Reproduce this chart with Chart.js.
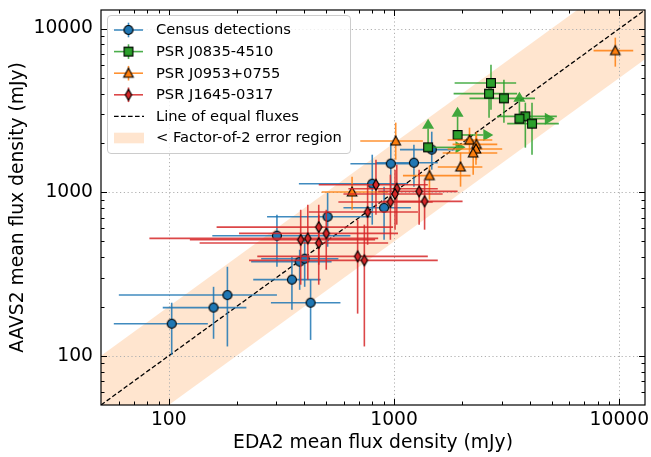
<!DOCTYPE html>
<html><head><meta charset="utf-8">
<script src="https://cdn.jsdelivr.net/npm/chart.js@4.4.1/dist/chart.umd.min.js"></script>
<style>html,body{margin:0;padding:0;background:#fff}</style>
</head><body>
<canvas id="c" width="651" height="457"></canvas>
<script>
// ---------------- DATA ----------------
const axis_min = 50, axis_max = 13000;
const x_major_ticks = [100, 1000, 10000];
const y_major_ticks = [100, 1000, 10000];
const x_tick_labels = ['100', '1000', '10000'];
const y_tick_labels = ['100', '1000', '10000'];
const minor_ticks = [60,70,80,90,200,300,400,500,600,700,800,900,2000,3000,4000,5000,6000,7000,8000,9000];

const census_x   = [103, 158, 182, 352, 426, 381, 401, 302, 507, 800, 903, 967, 1225, 1470];
const census_y   = [157, 197, 235, 292, 211, 376, 392, 542, 708, 1127, 804, 1494, 1515, 1820];
const census_xlo = [57, 94, 60, 237, 284, 232, 257, 156, 273, 378, 596, 640, 833, 1062];
const census_xhi = [149, 221, 302, 472, 578, 528, 566, 640, 792, 1153, 1188, 1276, 1563, 1857];
const census_ylo = [101, 127, 114, 191, 125, 253, 264, 350, 464, 633, 512, 900, 1081, 1373];
const census_yhi = [211, 264, 350, 403, 292, 445, 512, 728, 993, 1695, 1081, 2009, 1952, 2344];

const vela_x   = [2693, 2640, 3074, 3826, 4096, 3600, 1914, 1416];
const vela_y   = [4654, 4004, 3747, 2908, 2624, 2816, 2238, 1880];
const vela_xlo = [1857, 1838, 2162, 2872, 3178, null, null, null];
const vela_xhi = [3483, 3518, 4223, 5279, 5387, 5172, 2757, 2076];
const vela_ylo = [3196, 2856, 2662, 1872, 1696, null, null, null];
const vela_yhi = [6025, 4545, 4877, 3527, 3527, 4119, 3334, 2816];
const vela_lowerlimit = [false, false, false, false, false, true, true, true];

const b0950_x   = [651, 1017, 1436, 1973, 2162, 2321, 2310, 2245, 9597];
const b0950_y   = [1003, 2056, 1262, 1426, 2086, 1961, 1838, 1737, 7335];
const b0950_xlo = [477, 708, 1095, 1563, 1729, 1819, 1729, 1643, 7684];
const b0950_xhi = [941, 1342, 2184, 2466, 2729, 2872, 3020, 2872, 11527];
const b0950_ylo = [781, 1581, 900, 1081, 1696, 1581, 1473, 1280, 5856];
const b0950_yhi = [1244, 2662, 1452, 1745, 2481, 2344, 2216, 2095, 8810];

const j1645_x   = [831, 1028, 1010, 963, 763, 1292, 1366, 463, 500, 414, 385, 463, 689, 738];
const j1645_y   = [1111, 1050, 975, 871, 757, 1011, 879, 612, 560, 522, 512, 489, 405, 383];
const j1645_xlo = [463, 627, 596, 566, 418, 850, 894, 163, 205, 82, 124, 137, 247, 227];
const j1645_xhi = [1412, 1563, 1643, 1485, 1276, 1914, 2014, 990, 1041, 850, 824, 941, 1412, 1563];
const j1645_ylo = [728, 633, 590, 512, 477, 633, 590, 360, 336, 292, 272, 272, 181, 114];
const j1645_yhi = [1581, 1473, 1373, 1280, 1111, 1373, 1193, 838, 781, 838, 781, 728, 679, 633];

const equal_x = [50, 13000];
const equal_y = [50, 13000];
const band_x = [50, 13000];
const band_lower = [25, 6500];
const band_upper = [100, 26000];

const legend_labels = ['Census detections', 'PSR J0835-4510', 'PSR J0953+0755', 'PSR J1645-0317',
                       'Line of equal fluxes', '< Factor-of-2 error region'];

// ---------------- STYLE ----------------
const FONT = 'DejaVu Sans';
const AXIS_FONT = 18.7, LEGEND_FONT = 14.7;
const C_BLUE = '#1f77b4', C_GREEN = '#2ca02c', C_ORANGE = '#ff7f0e', C_RED = '#d62728';

function makeMarker(kind, fill) {
  const S = 16, c = document.createElement('canvas');
  c.width = S; c.height = S;
  const g = c.getContext('2d');
  g.translate(S / 2, S / 2);
  g.beginPath();
  if (kind === 'circle') g.arc(0, 0, 4.5, 0, Math.PI * 2);
  else if (kind === 'square') g.rect(-4.4, -4.4, 8.8, 8.8);
  else if (kind === 'triangle') { g.moveTo(0, -5); g.lineTo(4.8, 4); g.lineTo(-4.8, 4); g.closePath(); }
  else if (kind === 'diamond') { g.moveTo(0, -5.4); g.lineTo(3.2, 0); g.lineTo(0, 5.4); g.lineTo(-3.2, 0); g.closePath(); }
  g.fillStyle = fill; g.fill();
  g.lineWidth = 1.1; g.strokeStyle = '#000'; g.stroke();
  return c;
}
const M_CIRCLE = makeMarker('circle', C_BLUE);
const M_SQUARE = makeMarker('square', C_GREEN);
const M_TRI = makeMarker('triangle', C_ORANGE);
const M_DIA = makeMarker('diamond', C_RED);

function pts(xs, ys) { return xs.map((x, i) => ({ x: x, y: ys[i] })); }

const BAND_UPPER_INDEX = 1;

const datasets = [
  { type: 'line', data: pts(band_x, band_lower), borderWidth: 0, pointRadius: 0, fill: false, order: 11, clip: 0 },
  { type: 'line', data: pts(band_x, band_upper), borderWidth: 0, pointRadius: 0,
    fill: { target: 0 }, backgroundColor: 'rgba(255,127,14,0.2)', order: 10, clip: 0 },
  { type: 'line', data: pts(equal_x, equal_y), borderColor: '#000', borderWidth: 1.3, borderDash: [4.6, 2.4],
    pointRadius: 0, fill: false, order: 9, clip: 0 },
  { type: 'scatter', data: pts(census_x, census_y), pointStyle: M_CIRCLE, pointRadius: 5, order: 4,
    err: { color: C_BLUE, xlo: census_xlo, xhi: census_xhi, ylo: census_ylo, yhi: census_yhi } },
  { type: 'scatter', data: pts(vela_x, vela_y), pointStyle: M_SQUARE, pointRadius: 5, order: 3,
    err: { color: C_GREEN, xlo: vela_xlo, xhi: vela_xhi, ylo: vela_ylo, yhi: vela_yhi, limit: vela_lowerlimit } },
  { type: 'scatter', data: pts(b0950_x, b0950_y), pointStyle: M_TRI, pointRadius: 5, order: 2,
    err: { color: C_ORANGE, xlo: b0950_xlo, xhi: b0950_xhi, ylo: b0950_ylo, yhi: b0950_yhi } },
  { type: 'scatter', data: pts(j1645_x, j1645_y), pointStyle: M_DIA, pointRadius: 5, order: 1,
    err: { color: C_RED, xlo: j1645_xlo, xhi: j1645_xhi, ylo: j1645_ylo, yhi: j1645_yhi } }
];

function withAlpha(hex, a) {
  const n = parseInt(hex.slice(1), 16);
  return 'rgba(' + (n >> 16 & 255) + ',' + (n >> 8 & 255) + ',' + (n & 255) + ',' + a + ')';
}

function drawGrid(chart) {
  const { ctx, chartArea: a, scales } = chart;
  ctx.save();
  ctx.strokeStyle = '#b0b0b0'; ctx.lineWidth = 1; ctx.setLineDash([1.2, 2.6]);
  x_major_ticks.forEach(v => {
    const p = Math.round(scales.x.getPixelForValue(v)) + 0.5;
    ctx.beginPath(); ctx.moveTo(p, a.top); ctx.lineTo(p, a.bottom); ctx.stroke();
  });
  y_major_ticks.forEach(v => {
    const p = Math.round(scales.y.getPixelForValue(v)) + 0.5;
    ctx.beginPath(); ctx.moveTo(a.left, p); ctx.lineTo(a.right, p); ctx.stroke();
  });
  ctx.restore();
}

function drawErrors(chart, ds) {
  const { ctx, chartArea: a, scales } = chart;
  const sx = scales.x, sy = scales.y, e = ds.err;
  ctx.save();
  ctx.beginPath(); ctx.rect(a.left, a.top, a.right - a.left, a.bottom - a.top); ctx.clip();
  ctx.strokeStyle = withAlpha(e.color, 0.85);
  ctx.fillStyle = withAlpha(e.color, 0.9);
  ctx.lineWidth = 1.6;
  ds.data.forEach((p, i) => {
    const px = sx.getPixelForValue(p.x), py = sy.getPixelForValue(p.y);
    if (e.limit && e.limit[i]) {
      const tx = sx.getPixelForValue(e.xhi[i]), ty = sy.getPixelForValue(e.yhi[i]);
      const hl = 10, hw = 6;
      ctx.beginPath(); ctx.moveTo(px, py); ctx.lineTo(px, ty + hl); ctx.stroke();
      ctx.beginPath(); ctx.moveTo(px, ty); ctx.lineTo(px + hw, ty + hl); ctx.lineTo(px - hw, ty + hl); ctx.closePath(); ctx.fill();
      ctx.beginPath(); ctx.moveTo(px, py); ctx.lineTo(tx - hl, py); ctx.stroke();
      ctx.beginPath(); ctx.moveTo(tx, py); ctx.lineTo(tx - hl, py - hw); ctx.lineTo(tx - hl, py + hw); ctx.closePath(); ctx.fill();
    } else {
      const x0 = sx.getPixelForValue(e.xlo[i]), x1 = sx.getPixelForValue(e.xhi[i]);
      const y0 = sy.getPixelForValue(e.ylo[i]), y1 = sy.getPixelForValue(e.yhi[i]);
      ctx.beginPath(); ctx.moveTo(x0, py); ctx.lineTo(x1, py); ctx.stroke();
      ctx.beginPath(); ctx.moveTo(px, y0); ctx.lineTo(px, y1); ctx.stroke();
    }
  });
  ctx.restore();
}

function drawFrameTicks(chart) {
  const { ctx, chartArea: a, scales } = chart;
  ctx.save();
  ctx.strokeStyle = '#000'; ctx.lineWidth = 1;
  const tick = (vals, len) => {
    vals.forEach(v => {
      const X = Math.round(scales.x.getPixelForValue(v)) + 0.5;
      if (X > a.left + 1 && X < a.right - 1) {
        ctx.beginPath(); ctx.moveTo(X, a.bottom); ctx.lineTo(X, a.bottom - len); ctx.stroke();
        ctx.beginPath(); ctx.moveTo(X, a.top); ctx.lineTo(X, a.top + len); ctx.stroke();
      }
      const Y = Math.round(scales.y.getPixelForValue(v)) + 0.5;
      if (Y > a.top + 1 && Y < a.bottom - 1) {
        ctx.beginPath(); ctx.moveTo(a.left, Y); ctx.lineTo(a.left + len, Y); ctx.stroke();
        ctx.beginPath(); ctx.moveTo(a.right, Y); ctx.lineTo(a.right - len, Y); ctx.stroke();
      }
    });
  };
  tick(x_major_ticks, 6);
  tick(minor_ticks, 3.5);
  ctx.lineWidth = 1.2;
  ctx.strokeRect(a.left, a.top, a.right - a.left, a.bottom - a.top);
  ctx.restore();
}

function drawLegend(chart) {
  const ctx = chart.ctx;
  const bx = 107.5, by = 15.5, bw = 243, bh = 138, r = 3.5;
  ctx.save();
  ctx.beginPath();
  ctx.moveTo(bx + r, by); ctx.lineTo(bx + bw - r, by); ctx.arcTo(bx + bw, by, bx + bw, by + r, r);
  ctx.lineTo(bx + bw, by + bh - r); ctx.arcTo(bx + bw, by + bh, bx + bw - r, by + bh, r);
  ctx.lineTo(bx + r, by + bh); ctx.arcTo(bx, by + bh, bx, by + bh - r, r);
  ctx.lineTo(bx, by + r); ctx.arcTo(bx, by, bx + r, by, r); ctx.closePath();
  ctx.fillStyle = 'rgba(255,255,255,0.8)'; ctx.fill();
  ctx.strokeStyle = '#cccccc'; ctx.lineWidth = 1; ctx.stroke();

  const hx0 = 114, hx1 = 143, hc = 128.5, y0 = 30, dy = 21.6;
  const handles = [[C_BLUE, M_CIRCLE], [C_GREEN, M_SQUARE], [C_ORANGE, M_TRI], [C_RED, M_DIA]];
  handles.forEach((h, i) => {
    const y = y0 + i * dy;
    ctx.strokeStyle = withAlpha(h[0], 0.85); ctx.lineWidth = 1.6;
    ctx.beginPath(); ctx.moveTo(hx0, y); ctx.lineTo(hx1, y); ctx.stroke();
    ctx.beginPath(); ctx.moveTo(hc, y - 7.3); ctx.lineTo(hc, y + 7.3); ctx.stroke();
    ctx.drawImage(h[1], hc - h[1].width / 2, y - h[1].height / 2);
  });
  let y = y0 + 4 * dy;
  ctx.strokeStyle = '#000'; ctx.lineWidth = 1.3; ctx.setLineDash([4.6, 2.4]);
  ctx.beginPath(); ctx.moveTo(hx0, y); ctx.lineTo(hx1 + 1, y); ctx.stroke();
  ctx.setLineDash([]);
  y = y0 + 5 * dy;
  ctx.fillStyle = 'rgba(255,127,14,0.2)';
  ctx.fillRect(hx0, y - 5.3, 30, 10.6);

  ctx.fillStyle = '#000';
  ctx.font = LEGEND_FONT + 'px "' + FONT + '"';
  ctx.textBaseline = 'middle';
  legend_labels.forEach((t, i) => ctx.fillText(t, 156, y0 + i * dy + 0.5));
  ctx.restore();
}

const customPlugin = {
  id: 'custom',
  beforeDatasetDraw(chart, args) {
    const ds = chart.data.datasets[args.index];
    if (ds.err) drawErrors(chart, ds);
  },
  afterDatasetDraw(chart, args) {
    if (args.index === BAND_UPPER_INDEX) drawGrid(chart);
  },
  afterDraw(chart) {
    drawFrameTicks(chart);
    drawLegend(chart);
  }
};

function zeroPad(s) { s.paddingTop = 0; s.paddingBottom = 0; s.paddingLeft = 0; s.paddingRight = 0; }

new Chart(document.getElementById('c'), {
  type: 'scatter',
  data: { datasets: datasets },
  options: {
    responsive: false,
    animation: false,
    events: [],
    layout: { padding: { top: 10, right: 3, left: 0, bottom: 0 } },
    plugins: { legend: { display: false }, tooltip: { enabled: false } },
    scales: {
      x: {
        type: 'logarithmic', position: 'bottom', min: axis_min, max: axis_max,
        afterBuildTicks: s => { s.ticks = x_major_ticks.map(v => ({ value: v })); },
        afterFit: s => { s.height = 52; zeroPad(s); },
        ticks: { callback: (v, i) => x_tick_labels[i], font: { family: FONT, size: AXIS_FONT }, color: '#000',
                 padding: 4, maxRotation: 0, autoSkip: false },
        grid: { display: false, drawTicks: false },
        border: { display: false },
        title: { display: true, text: 'EDA2 mean flux density (mJy)', font: { family: FONT, size: AXIS_FONT },
                 color: '#000', padding: { top: 0, bottom: 3 } }
      },
      y: {
        type: 'logarithmic', position: 'left', min: axis_min, max: axis_max,
        afterBuildTicks: s => { s.ticks = y_major_ticks.map(v => ({ value: v })); },
        afterFit: s => { s.width = 101; zeroPad(s); },
        ticks: { callback: (v, i) => y_tick_labels[i], font: { family: FONT, size: AXIS_FONT }, color: '#000',
                 padding: 8, autoSkip: false },
        grid: { display: false, drawTicks: false },
        border: { display: false },
        title: { display: true, text: 'AAVS2 mean flux density (mJy)', font: { family: FONT, size: AXIS_FONT },
                 color: '#000', padding: { top: 7, bottom: 0 } }
      }
    }
  },
  plugins: [customPlugin]
});
</script>
</body></html>
